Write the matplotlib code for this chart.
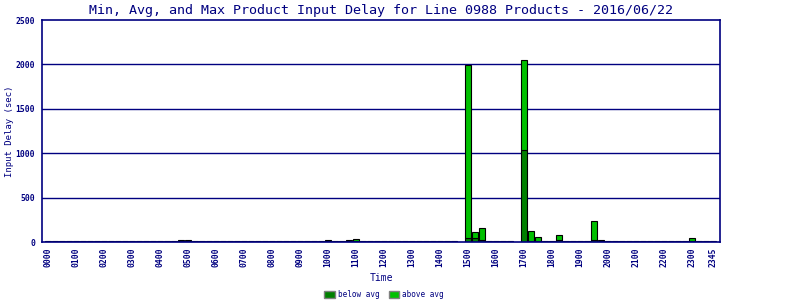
import numpy as np
import matplotlib
matplotlib.use("Agg")
import matplotlib.pyplot as plt

times = [f"{h:02d}{m:02d}" for h in range(24) for m in (0, 15, 30, 45)]
tick_labels = [f"{h:02d}00" for h in range(24)] + ["2345"]

# average and maximum delay (sec) per 15-minute slot; None = no data
avg_delay = [
    4, 4, 4, 4, 4, 4, 4, 4, 4, 4, 4, 4, 4, 4, 4, 4,      # 0000-0345
    4, 4, 4, 8, 8, 4, 4, 4, 4, 4, 4, 4, 4, 4, 4, 4,      # 0400-0745
    4, 4, 4, 4, 4, 4, 4, 4, 6, 4, 4, 6, 8, 4, 4, 4,      # 0800-1145
    4, 4, 4, 4, 4, 4, 4, 4, 4, 4, 4, None, 40, 50, 20, 4,  # 1200-1545
    4, 4, 4, None, 1036, 12, 8, 4, 4, 22, 4, 4, 4, 4, 20, 6,  # 1600-1945
    4, 4, 4, 4, 4, 4, 4, 4, 4, 4, 4, 4, 8, 4, 4, 4,      # 2000-2345
]
max_delay = [
    9, 9, 9, 9, 9, 9, 9, 9, 9, 9, 9, 9, 9, 9, 9, 9,
    9, 9, 9, 22, 22, 9, 9, 9, 9, 9, 9, 9, 9, 9, 9, 9,
    9, 9, 9, 9, 9, 9, 9, 9, 18, 9, 9, 20, 34, 9, 9, 9,
    9, 9, 9, 9, 9, 9, 9, 9, 9, 9, 9, None, 1995, 110, 155, 9,
    9, 9, 9, None, 2046, 124, 56, 9, 9, 79, 9, 9, 9, 9, 236, 20,
    9, 9, 9, 9, 9, 9, 9, 9, 9, 9, 9, 9, 45, 9, 9, 9,
]

navy = "#000080"
dark_green = "#008000"
light_green = "#00C000"

avg_arr = np.array([np.nan if v is None else v for v in avg_delay], dtype=float)
max_arr = np.array([np.nan if v is None else v for v in max_delay], dtype=float)
above = max_arr - avg_arr
x = np.arange(len(times))

fig = plt.figure(figsize=(8, 3), dpi=100)
ax = fig.add_axes([0.0525, 0.1933, 0.8475, 0.74])

for y in (500, 1000, 1500, 2000):
    ax.axhline(y, color=navy, lw=1.0, zorder=0)

ax.bar(x, avg_arr, width=0.8, color=dark_green, edgecolor="black", linewidth=0.8,
       label="below avg", zorder=2)
ax.bar(x, above, bottom=avg_arr, width=0.8, color=light_green, edgecolor="black",
       linewidth=0.8, label="above avg", zorder=2)

ax.set_xlim(-0.85, 96)
ax.set_ylim(0, 2500)
ax.set_yticks([0, 500, 1000, 1500, 2000, 2500])
ax.set_yticklabels(["0", "500", "1000", "1500", "2000", "2500"],
                   fontfamily="DejaVu Sans Mono", fontsize=5.8, fontweight="bold", color=navy)
tick_pos = [times.index(t) for t in tick_labels]
ax.set_xticks(tick_pos)
ax.set_xticklabels(tick_labels, rotation=90, fontfamily="DejaVu Sans Mono",
                   fontsize=5.8, fontweight="bold", color=navy)
ax.tick_params(axis="both", length=0)
ax.tick_params(axis="y", pad=5)
ax.tick_params(axis="x", pad=4)

for s in ax.spines.values():
    s.set_color(navy)
    s.set_linewidth(1.2)

ax.set_title("Min, Avg, and Max Product Input Delay for Line 0988 Products - 2016/06/22",
             fontfamily="DejaVu Sans Mono", fontsize=9.6, color=navy, pad=4)
ax.set_xlabel("Time", fontfamily="DejaVu Sans Mono", fontsize=7, color=navy, labelpad=4)
ax.set_ylabel("Input Delay (sec)", fontfamily="DejaVu Sans Mono", fontsize=6.5, color=navy)
ax.yaxis.set_label_coords(-0.042, 0.5)

handles, labels = ax.get_legend_handles_labels()
leg = fig.legend(handles, labels, loc="center", bbox_to_anchor=(0.48, 0.018), ncol=2,
                 frameon=False, prop={"family": "DejaVu Sans Mono", "size": 5.5},
                 handlelength=1.4, handleheight=1.0, handletextpad=0.4, columnspacing=1.2)
for t in leg.get_texts():
    t.set_color(navy)
for p in leg.get_patches():
    p.set_edgecolor("gray")
    p.set_linewidth(1.0)

fig.savefig("out.png", dpi=100)
